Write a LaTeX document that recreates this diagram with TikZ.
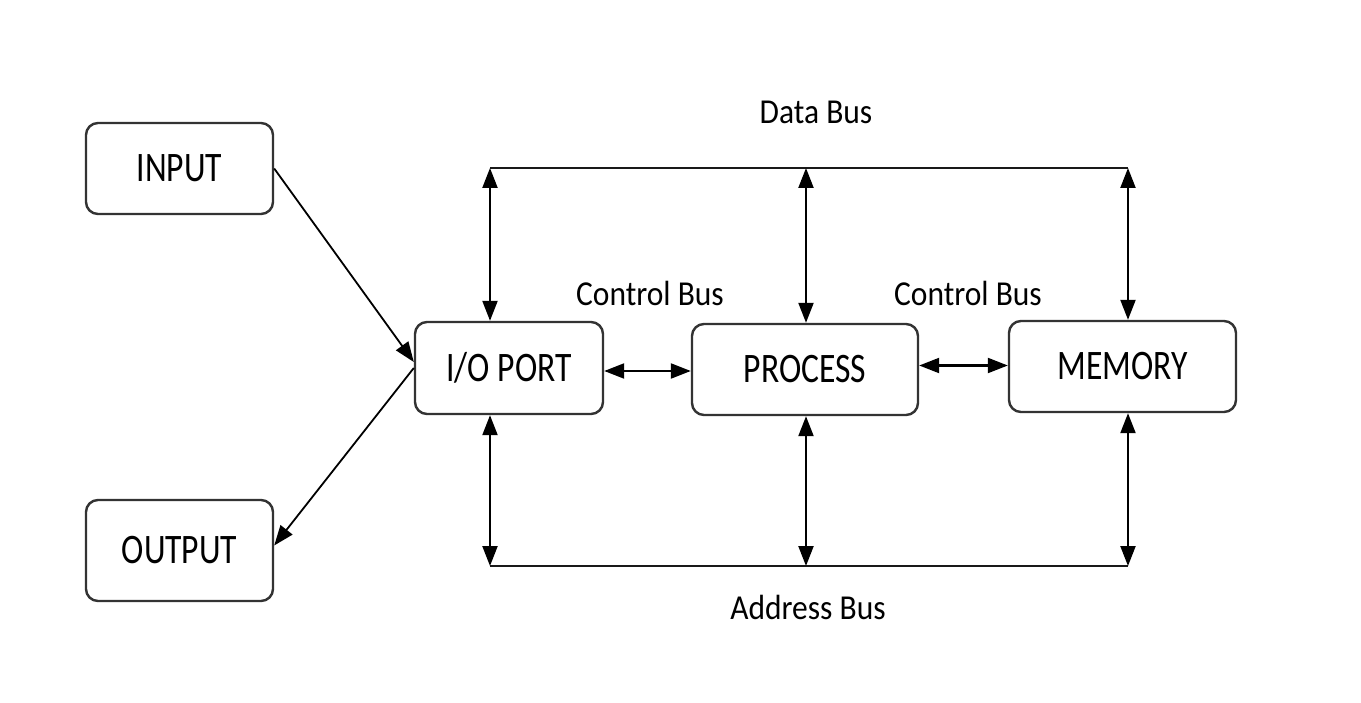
\documentclass[tikz,border=0pt]{standalone}
\usepackage{fontspec}
\setmainfont{Carlito}[FakeStretch=0.8]
\newfontfamily\lblfont{Carlito}[FakeStretch=0.9]
\usetikzlibrary{arrows.meta}
\begin{document}
\begin{tikzpicture}[x=1pt,y=-1pt,
  blk/.style={draw=black!80,line width=2.4pt,rounded corners=12pt,fill=white,inner sep=0pt,font=\fontsize{42}{46}\selectfont},
  lbl/.style={font=\lblfont\fontsize{35}{38}\selectfont,inner sep=0pt},
  bus/.style={line width=2.2pt,draw=black!90},
  dbl/.style={line width=2.2pt,{Triangle[length=20pt,width=15pt]}-{Triangle[length=20pt,width=15pt]}},
  sgl/.style={line width=1.8pt,-{Triangle[length=20pt,width=15pt]}}]
\useasboundingbox (0,0) rectangle (1361,703);
\fill[white] (0,0) rectangle (1361,703);
\node[blk,minimum width=187pt,minimum height=91pt] (in) at (179.5,168.5) {INPUT};
\node[blk,minimum width=187pt,minimum height=101pt] (out) at (179.5,550.5) {OUTPUT};
\node[blk,minimum width=188pt,minimum height=92pt] (io) at (509,368) {I/O PORT};
\node[blk,minimum width=226pt,minimum height=91pt] (pr) at (805,369.5) {PROCESS};
\node[blk,minimum width=227pt,minimum height=91pt] (me) at (1122.5,366.5) {MEMORY};
\coordinate (d1) at (490,168);
\coordinate (d2) at (806,168);
\coordinate (d3) at (1128,168);
\coordinate (a1) at (490,566);
\coordinate (a2) at (806,566);
\coordinate (a3) at (1128,566);
\draw[bus] (d1) -- (d3);
\draw[bus] (a1) -- (a3);
\draw[dbl] (d1) -- (d1 |- io.north);
\draw[dbl] (d2) -- (d2 |- pr.north);
\draw[dbl] (d3) -- (d3 |- me.north);
\draw[dbl] (a1) -- (a1 |- io.south);
\draw[dbl] (a2) -- (a2 |- pr.south);
\draw[dbl] (a3) -- (a3 |- me.south);
\draw[dbl] ([yshift=-3pt]io.east) -- ([yshift=-3pt]io.east -| pr.west);
\draw[dbl] ([yshift=4pt]pr.east) -- ([yshift=4pt]pr.east -| me.west);
\draw[sgl] (in.east) -- ([yshift=6pt]io.west);
\draw[sgl] (io.west) -- ([yshift=5pt]out.east);
\node[lbl] (db) at (816,112) {Data Bus};
\node[lbl] (cb1) at (650,293) {Control Bus};
\node[lbl] (cb2) at (968,293) {Control Bus};
\node[lbl] (ab) at (808,607) {Address Bus};
\end{tikzpicture}
\end{document}
